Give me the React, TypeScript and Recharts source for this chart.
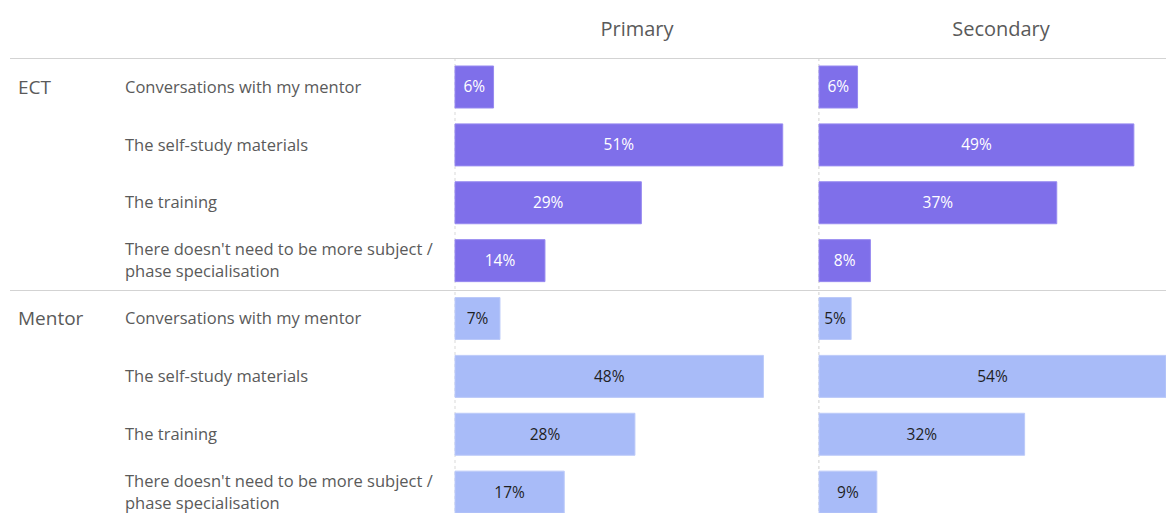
import { BarChart, Bar, XAxis, YAxis, CartesianGrid, LabelList, Cell } from 'recharts';

const groups = ['ECT', 'Mentor'];
const items = [
  'Conversations with my mentor',
  'The self-study materials',
  'The training',
  "There doesn't need to be more subject / phase specialisation",
];
const panelTitles = ['Primary', 'Secondary'];

// % of respondents, per group, in item order
const primaryEct = [6, 51, 29, 14];
const primaryMentor = [7, 48, 28, 17];
const secondaryEct = [6, 49, 37, 8];
const secondaryMentor = [5, 54, 32, 9];

const ECT_COLOR = '#7f6fea';
const ECT_STROKE = '#978af0';
const MENTOR_COLOR = '#a8bbf8';
const MENTOR_STROKE = '#bccaf9';
const TEXT = '#5a5a5a';
const RULE = '#d3d3d3';
const FONT = '"Open Sans", "Noto Sans", sans-serif';

const CHART_H = 521;
const HEADER_H = 58;
const PANEL_W = 364;
const LABEL_W = 455;

type Row = { key: string; group: string; item: string; first: boolean; value: number };

function buildRows(ect: number[], mentor: number[]): Row[] {
  const byGroup = [ect, mentor];
  return groups.flatMap((g, gi) =>
    items.map((item, i) => ({
      key: `${g}|${item}`,
      group: g,
      item,
      first: i === 0,
      value: byGroup[gi][i],
    })),
  );
}

const primaryRows = buildRows(primaryEct, primaryMentor);
const secondaryRows = buildRows(secondaryEct, secondaryMentor);
const maxVal = Math.max(...primaryRows.map((r) => r.value), ...secondaryRows.map((r) => r.value));

function wrap(text: string, maxChars: number): string[] {
  const words = text.split(' ');
  const lines: string[] = [];
  let cur = '';
  for (const w of words) {
    const next = cur ? `${cur} ${w}` : w;
    if (next.length > maxChars && cur) {
      lines.push(cur);
      cur = w;
    } else {
      cur = next;
    }
  }
  if (cur) lines.push(cur);
  return lines;
}

const RowTick = (props: any) => {
  const { y, payload, rows, lineStart, lineEnd, withText } = props;
  const row: Row | undefined = rows.find((r: Row) => r.key === payload.value);
  if (!row) return null;
  const half = payload.offset ?? 29;
  const top = Math.round(y - half) + 0.5;
  const lines = wrap(row.item, 40);
  const lh = 22;
  return (
    <g>
      {row.first && <line x1={lineStart} x2={lineEnd} y1={top} y2={top} stroke={RULE} strokeWidth={1} />}
      {withText && row.first && (
        <text x={18} y={y} dy="0.35em" fill={TEXT} fontSize={19} fontFamily={FONT}>
          {row.group}
        </text>
      )}
      {withText && (
        <text x={125} y={y - ((lines.length - 1) * lh) / 2} fill={TEXT} fontSize={16.5} fontFamily={FONT}>
          {lines.map((l, i) => (
            <tspan key={i} x={125} dy={i === 0 ? '0.35em' : lh}>
              {l}
            </tspan>
          ))}
        </text>
      )}
    </g>
  );
};

const valueLabel = (rows: Row[]) => (props: any) => {
  const { x, y, width, height, value, index } = props;
  const row = rows[index];
  const isEct = row?.group === groups[0];
  return (
    <text
      x={x + width / 2}
      y={y + height / 2}
      dy="0.35em"
      textAnchor="middle"
      fill={isEct ? '#ffffff' : '#1f1f1f'}
      fontSize={15.5}
      fontFamily={FONT}
    >
      {`${value}%`}
    </text>
  );
};

function Panel({ rows, title, left, withLabels }: { rows: Row[]; title: string; left: number; withLabels: boolean }) {
  const yWidth = withLabels ? LABEL_W : 1;
  const width = yWidth + PANEL_W;
  return (
    <div style={{ position: 'absolute', left, top: 0 }}>
      <BarChart
        width={width}
        height={CHART_H}
        data={rows}
        layout="vertical"
        margin={{ top: 0, right: 0, bottom: 0, left: 0 }}
        barSize={42}
      >
        <CartesianGrid horizontal={false} stroke="#d9d9d9" strokeDasharray="3 3" />
        <XAxis
          type="number"
          orientation="top"
          domain={[0, maxVal]}
          ticks={[0]}
          height={HEADER_H}
          tick={false}
          tickLine={false}
          axisLine={false}
          padding={{ left: 0, right: 17 }}
          label={{ value: title, position: 'center', fill: TEXT, fontSize: 20, fontFamily: FONT }}
        />
        <YAxis
          type="category"
          dataKey="key"
          width={yWidth}
          axisLine={false}
          tickLine={false}
          interval={0}
          tick={<RowTick rows={rows} lineStart={withLabels ? 10 : 0} lineEnd={width} withText={withLabels} />}
        />
        <Bar dataKey="value" isAnimationActive={false}>
          {rows.map((r) => (
            <Cell
              key={r.key}
              fill={r.group === groups[0] ? ECT_COLOR : MENTOR_COLOR}
              stroke={r.group === groups[0] ? ECT_STROKE : MENTOR_STROKE}
              strokeWidth={1}
            />
          ))}
          <LabelList dataKey="value" content={valueLabel(rows)} />
        </Bar>
      </BarChart>
    </div>
  );
}

export default function App() {
  return (
    <div
      style={{
        position: 'absolute',
        left: 0,
        top: 0,
        width: 1166,
        height: 513,
        overflow: 'hidden',
        background: '#ffffff',
        fontFamily: FONT,
      }}
    >
      <Panel rows={primaryRows} title={panelTitles[0]} left={0} withLabels />
      <Panel rows={secondaryRows} title={panelTitles[1]} left={LABEL_W + PANEL_W - 1} withLabels={false} />
    </div>
  );
}
